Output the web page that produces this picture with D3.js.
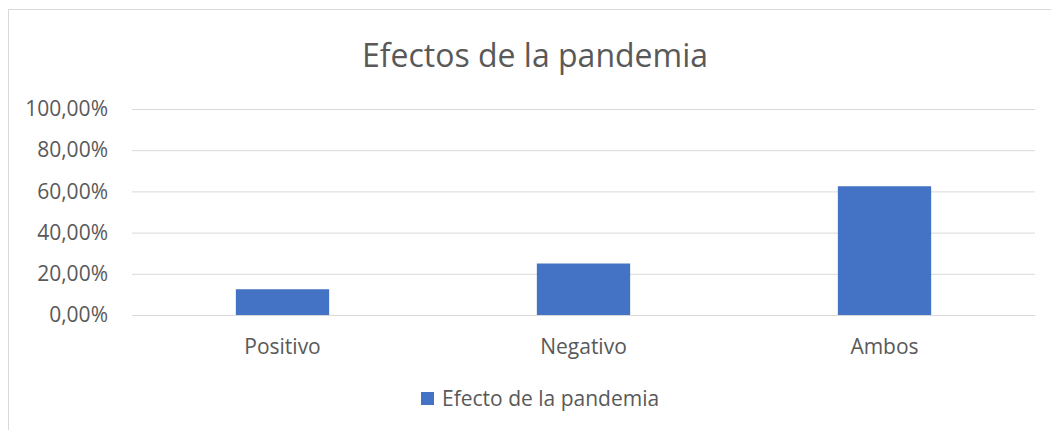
<!DOCTYPE html>
<html><head><meta charset="utf-8">
<script src="https://cdn.jsdelivr.net/npm/d3@7"></script>
<style>body{margin:0;background:#fff;}svg{display:block;font-family:"Open Sans",sans-serif;}</style>
</head><body>
<svg id="c" width="1051" height="430"></svg>
<script>
const categories = ["Positivo", "Negativo", "Ambos"];
const values = [0.125, 0.25, 0.625];
const seriesName = "Efecto de la pandemia";
const yTicks = [0, 0.2, 0.4, 0.6, 0.8, 1.0];
const title = "Efectos de la pandemia";

const svg = d3.select("#c");
const W = 1051, H = 430;
const m = {left: 132, right: 16, top: 109, bottom: 115};
const x = d3.scaleBand().domain(categories).range([m.left, W - m.right]).paddingInner(0.69).paddingOuter(0.345);
const y = d3.scaleLinear().domain([0, 1]).range([H - m.bottom, m.top]);
const fmt = v => (v * 100).toFixed(2).replace(".", ",") + "%";

// chart border
svg.append("rect").attr("x", 8.5).attr("y", 9.5).attr("width", W).attr("height", H)
  .attr("fill", "none").attr("stroke", "#d9d9d9").attr("stroke-width", 1);

svg.append("text").attr("x", 535).attr("y", 67).attr("text-anchor", "middle")
  .attr("font-size", 32).attr("fill", "#595959").attr("font-weight", 400).text(title);

const gy = svg.append("g").attr("transform", `translate(${m.left},0)`)
  .call(d3.axisLeft(y).tickValues(yTicks).tickFormat(fmt).tickSize(-(W - m.right - m.left)).tickPadding(24));
gy.select(".domain").remove();
gy.selectAll(".tick line").attr("stroke", "#d9d9d9").attr("stroke-width", 1);
gy.selectAll(".tick text").attr("fill", "#595959").attr("font-size", 21).attr("font-family", "Open Sans");

svg.selectAll("rect.bar").data(values).join("rect").attr("class", "bar")
  .attr("x", (d, i) => x(categories[i])).attr("width", x.bandwidth())
  .attr("y", d => y(d)).attr("height", d => y(0) - y(d)).attr("fill", "#4472c4");

const gx = svg.append("g").attr("transform", `translate(0,${y(0)})`)
  .call(d3.axisBottom(x).tickSize(0).tickPadding(24));
gx.select(".domain").remove();
gx.selectAll(".tick text").attr("fill", "#595959").attr("font-size", 21).attr("font-family", "Open Sans");

const lg = svg.append("g");
lg.append("rect").attr("x", 421).attr("y", 392).attr("width", 13).attr("height", 13).attr("fill", "#4472c4");
lg.append("text").attr("x", 442).attr("y", 406).attr("font-size", 21).attr("fill", "#595959").text(seriesName);
</script>
</body></html>
